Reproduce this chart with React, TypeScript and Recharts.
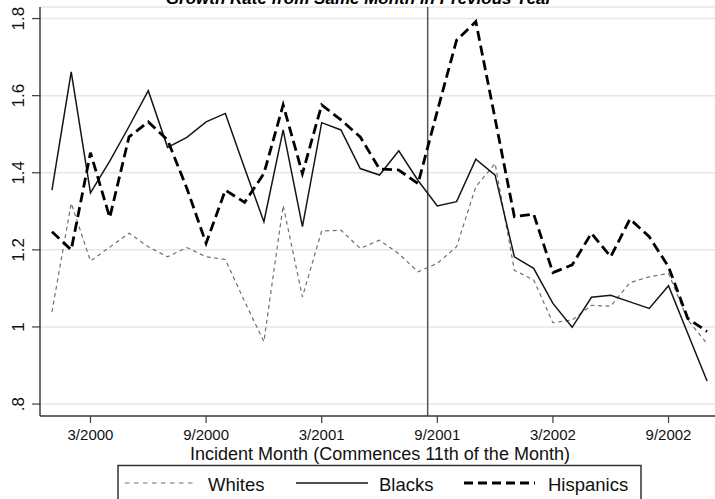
import { LineChart, Line, XAxis, YAxis, CartesianGrid, ReferenceLine } from "recharts";

// incident months, Jan 2000 through Nov 2002
const months = [
  "1/2000", "2/2000", "3/2000", "4/2000", "5/2000", "6/2000", "7/2000", "8/2000", "9/2000", "10/2000", "11/2000", "12/2000",
  "1/2001", "2/2001", "3/2001", "4/2001", "5/2001", "6/2001", "7/2001", "8/2001", "9/2001", "10/2001", "11/2001", "12/2001",
  "1/2002", "2/2002", "3/2002", "4/2002", "5/2002", "6/2002", "7/2002", "8/2002", "9/2002", "10/2002", "11/2002",
];

const whites = [
  1.039, 1.321, 1.171, 1.207, 1.243, 1.208, 1.182, 1.206, 1.182, 1.175, 1.066, 0.962,
  1.315, 1.078, 1.249, 1.251, 1.204, 1.225, 1.19, 1.143, 1.165, 1.208, 1.364, 1.424,
  1.147, 1.122, 1.011, 1.018, 1.056, 1.054, 1.115, 1.13, 1.139, 1.018, 0.957,
];

const blacks = [
  1.355, 1.662, 1.348, 1.43, 1.52, 1.613, 1.466, 1.492, 1.532, 1.554, 1.412, 1.273,
  1.511, 1.26, 1.53, 1.511, 1.411, 1.394, 1.457, 1.38, 1.314, 1.325, 1.435, 1.394,
  1.182, 1.152, 1.061, 0.999, 1.077, 1.082, 1.065, 1.048, 1.107, 0.983, 0.86,
];

const hispanics = [
  1.247, 1.2, 1.452, 1.284, 1.493, 1.532, 1.485, 1.36, 1.217, 1.355, 1.323, 1.398,
  1.576, 1.398, 1.576, 1.537, 1.493, 1.41, 1.407, 1.372, 1.56, 1.744, 1.792, 1.54,
  1.286, 1.293, 1.141, 1.161, 1.243, 1.182, 1.28, 1.234, 1.156, 1.022, 0.988,
];

const xTickLabels = ["3/2000", "9/2000", "3/2001", "9/2001", "3/2002", "9/2002"];
const yTicks = [0.8, 1, 1.2, 1.4, 1.6, 1.8];
const yTickLabels = [".8", "1", "1.2", "1.4", "1.6", "1.8"];

// Sept 11 falls midway between the Aug and Sep incident months
const eventMonth = 19.5;

const FONT = "'Liberation Sans', Arial, Helvetica, sans-serif";
const AXIS = "#3c3c3c";

const data = months.map((m, i) => ({
  i,
  month: m,
  whites: whites[i],
  blacks: blacks[i],
  hispanics: hispanics[i],
}));

const xTicks = xTickLabels.map((l) => months.indexOf(l));

const XTick = ({ x, y, payload }: any) => (
  <text x={x} y={y} dy={15} textAnchor="middle" fontFamily={FONT} fontSize={15} fill="#111">
    {months[payload.value]}
  </text>
);

const YTick = ({ y, payload }: any) => {
  const idx = yTicks.indexOf(payload.value);
  return (
    <text
      x={24.5}
      y={y}
      transform={`rotate(-90, 24.5, ${y})`}
      textAnchor="middle"
      fontFamily={FONT}
      fontSize={17}
      fill="#111"
    >
      {yTickLabels[idx]}
    </text>
  );
};

export default function App() {
  return (
    <div style={{ position: "absolute", left: 0, top: 0, width: 715, height: 499, overflow: "hidden", background: "#fff" }}>
      <LineChart width={720} height={499} data={data} margin={{ top: 7, right: 1, bottom: 0, left: 0 }}>
        <CartesianGrid vertical={false} stroke="#e6e6e6" strokeWidth={1.5} />
        <XAxis
          dataKey="i"
          type="number"
          domain={[-0.62, 34.62]}
          ticks={xTicks}
          tick={<XTick />}
          height={83}
          tickSize={7}
          axisLine={{ stroke: AXIS, strokeWidth: 1.5 }}
          tickLine={{ stroke: AXIS, strokeWidth: 1.2 }}
          interval={0}
        />
        <YAxis
          type="number"
          domain={[0.769, 1.83]}
          ticks={yTicks}
          tick={<YTick />}
          width={40}
          tickSize={8}
          axisLine={{ stroke: AXIS, strokeWidth: 1.5 }}
          tickLine={{ stroke: AXIS, strokeWidth: 1.2 }}
          interval={0}
        />
        <ReferenceLine x={eventMonth} stroke="#555" strokeWidth={1.5} />
        <Line
          type="linear"
          dataKey="whites"
          stroke="#707070"
          strokeWidth={1.2}
          strokeDasharray="4 3.5"
          dot={false}
          isAnimationActive={false}
        />
        <Line
          type="linear"
          dataKey="blacks"
          stroke="#151515"
          strokeWidth={1.5}
          dot={false}
          isAnimationActive={false}
        />
        <Line
          type="linear"
          dataKey="hispanics"
          stroke="#000"
          strokeWidth={2.8}
          strokeDasharray="10 5"
          dot={false}
          isAnimationActive={false}
        />
      </LineChart>

      <svg
        width={715}
        height={499}
        style={{ position: "absolute", left: 0, top: 0, pointerEvents: "none" }}
      >
        <text x={359} y={4} textAnchor="middle" fontFamily={FONT} fontSize={17} fontWeight="bold" fontStyle="italic" fill="#000">
          Growth Rate from Same Month in Previous Year
        </text>
        <text x={380} y={460} textAnchor="middle" fontFamily={FONT} fontSize={18} fill="#111">
          Incident Month (Commences 11th of the Month)
        </text>

        <rect x={118} y={465.5} width={523} height={60} fill="#fff" stroke="#333" strokeWidth={1.5} />
        <line x1={125} y1={483} x2={197} y2={483} stroke="#707070" strokeWidth={1.2} strokeDasharray="4.5 4.5" />
        <text x={208} y={491} fontFamily={FONT} fontSize={18.5} fill="#111">Whites</text>
        <line x1={296} y1={483} x2={368} y2={483} stroke="#151515" strokeWidth={1.5} />
        <text x={379} y={491} fontFamily={FONT} fontSize={18.5} fill="#111">Blacks</text>
        <line x1={464} y1={483} x2={535} y2={483} stroke="#000" strokeWidth={2.8} strokeDasharray="9 5" />
        <text x={548} y={491} fontFamily={FONT} fontSize={18.5} fill="#111">Hispanics</text>
      </svg>
    </div>
  );
}
